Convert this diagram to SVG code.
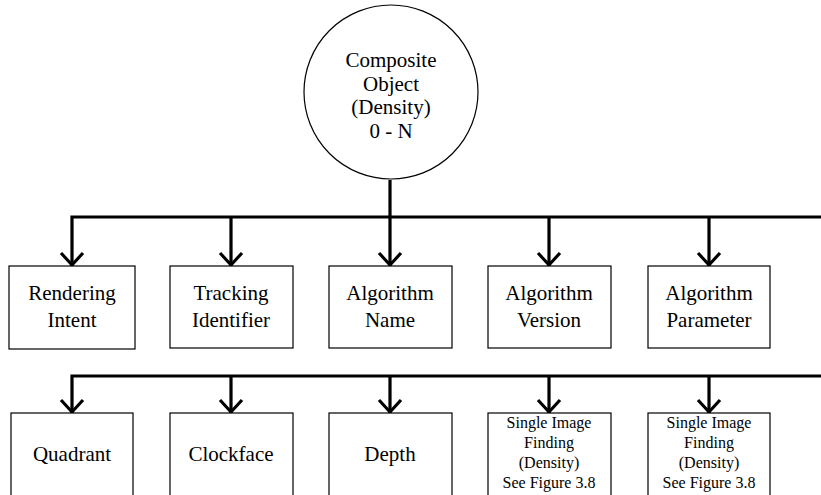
<svg xmlns="http://www.w3.org/2000/svg" width="821" height="495" viewBox="0 0 821 495">
<style>
.node{fill:#fff;stroke:#000;stroke-width:1.2}
.t{font-family:'Liberation Serif','Times New Roman',serif;font-size:21px;text-anchor:middle;fill:#000}
.s{font-family:'Liberation Serif','Times New Roman',serif;font-size:16px;text-anchor:middle;fill:#000}
.c{fill:none;stroke:#000;stroke-width:3.2}
.a{fill:none;stroke:#000;stroke-width:3.2}
</style>
<defs>
<path id="ah" class="a" d="M-11,-12 L0,0 L11,-12"/>
</defs>
<rect width="821" height="495" fill="#fff"/>
<g id="connectors">
<path class="c" d="M390,180 V217"/>
<path class="c" d="M72,266 V217 H821"/>
<path class="c" d="M231,217 V266 M390,217 V266 M549,217 V266 M709,217 V266"/>
<path class="c" d="M72,413 V376 H821"/>
<path class="c" d="M231,376 V413 M390,376 V413 M549,376 V413 M709,376 V413"/>
<use href="#ah" x="72" y="265"/>
<use href="#ah" x="231" y="265"/>
<use href="#ah" x="390" y="265"/>
<use href="#ah" x="549" y="265"/>
<use href="#ah" x="709" y="265"/>
<use href="#ah" x="72" y="412"/>
<use href="#ah" x="231" y="412"/>
<use href="#ah" x="390" y="412"/>
<use href="#ah" x="549" y="412"/>
<use href="#ah" x="709" y="412"/>
</g>
<g id="composite">
<circle class="node" cx="391" cy="92" r="87"/>
<text class="t" x="391" y="67">Composite</text>
<text class="t" x="391" y="91">Object</text>
<text class="t" x="391" y="114">(Density)</text>
<text class="t" x="391" y="138">0 - N</text>
</g>
<g id="rendering-intent">
<rect class="node" x="9" y="266" width="126" height="83"/>
<text class="t" x="72" y="300">Rendering</text>
<text class="t" x="72" y="327">Intent</text>
</g>
<g id="tracking-identifier">
<rect class="node" x="170" y="266" width="123" height="82"/>
<text class="t" x="231" y="300">Tracking</text>
<text class="t" x="231" y="327">Identifier</text>
</g>
<g id="algorithm-name">
<rect class="node" x="329" y="266" width="123" height="82"/>
<text class="t" x="390" y="300">Algorithm</text>
<text class="t" x="390" y="327">Name</text>
</g>
<g id="algorithm-version">
<rect class="node" x="488" y="266" width="123" height="82"/>
<text class="t" x="549" y="300">Algorithm</text>
<text class="t" x="549" y="327">Version</text>
</g>
<g id="algorithm-parameter">
<rect class="node" x="648" y="266" width="122" height="82"/>
<text class="t" x="709" y="300">Algorithm</text>
<text class="t" x="709" y="327">Parameter</text>
</g>
<g id="quadrant">
<rect class="node" x="11" y="413" width="122" height="100"/>
<text class="t" x="72" y="461">Quadrant</text>
</g>
<g id="clockface">
<rect class="node" x="170" y="413" width="123" height="100"/>
<text class="t" x="231" y="461">Clockface</text>
</g>
<g id="depth">
<rect class="node" x="329" y="413" width="123" height="100"/>
<text class="t" x="390" y="461">Depth</text>
</g>
<g id="single-image-finding-1">
<rect class="node" x="488" y="413" width="123" height="100"/>
<text class="s" x="549" y="427.5">Single Image</text>
<text class="s" x="549" y="447.5">Finding</text>
<text class="s" x="549" y="467.5">(Density)</text>
<text class="s" x="549" y="487.5">See Figure 3.8</text>
</g>
<g id="single-image-finding-2">
<rect class="node" x="648" y="413" width="122" height="100"/>
<text class="s" x="709" y="427.5">Single Image</text>
<text class="s" x="709" y="447.5">Finding</text>
<text class="s" x="709" y="467.5">(Density)</text>
<text class="s" x="709" y="487.5">See Figure 3.8</text>
</g>
</svg>
